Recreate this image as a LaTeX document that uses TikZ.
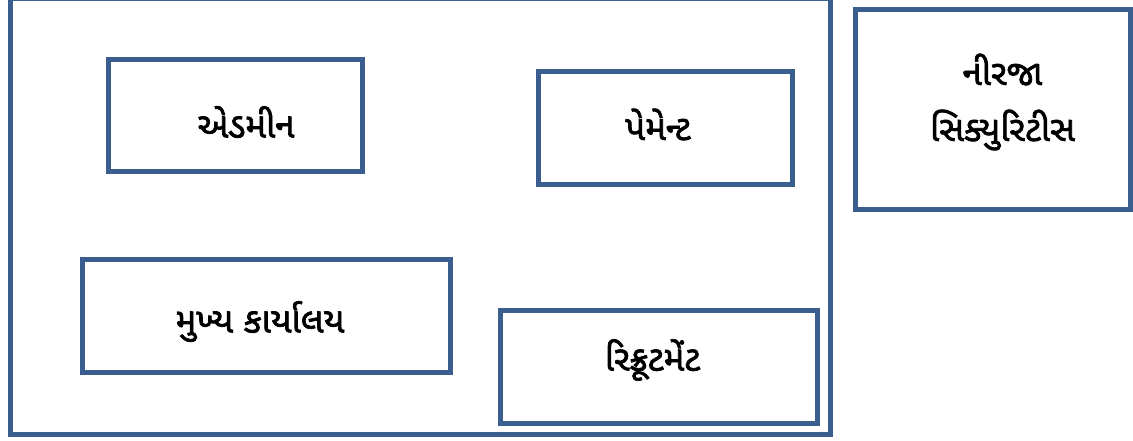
\documentclass[tikz,border=0pt]{standalone}
\usepackage{fontspec}
\newfontfamily\guj[Script=Gujarati,AutoFakeBold=2]{Noto Sans Gujarati UI}
\definecolor{boxblue}{HTML}{3A5F8F}
\begin{document}
\begin{tikzpicture}[x=1pt,y=1pt,
  box/.style={draw=boxblue,line width=5pt,inner sep=0pt,outer sep=0pt},
  txt/.style={inner sep=0pt,align=center,font=\guj\bfseries\fontsize{35}{56}\selectfont}]
\useasboundingbox (0,0) rectangle (1133,441);
\fill[white] (0,0) rectangle (1133,441);
\node[box,minimum width=820,minimum height=436] (outer) at (420,224) {};
\node[box,minimum width=254,minimum height=112] (admin) at (235,325) {};
\node[box,minimum width=254,minimum height=113] (pay) at (665,312.5) {};
\node[box,minimum width=275,minimum height=200] (nirja) at (992.5,331) {};
\node[box,minimum width=368,minimum height=113] (hq) at (266,124.5) {};
\node[box,minimum width=317,minimum height=113] (rec) at (658.5,74) {};
\node[txt] (tadmin) at ([shift={(11,-6)}]admin.center) {એડમીન};
\node[txt] (tpay) at ([shift={(-7,4)}]pay.center) {પેમેન્ટ};
\node[txt] (tnirja) at ([shift={(10,8)}]nirja.center) {નીરજા\\સિક્યુરિટીસ};
\node[txt] (thq) at ([shift={(-6,-5)}]hq.center) {મુખ્ય કાર્યાલય};
\node[txt] (trec) at ([shift={(-6,7)}]rec.center) {રિક્રૂટમેંટ};
\end{tikzpicture}
\end{document}
